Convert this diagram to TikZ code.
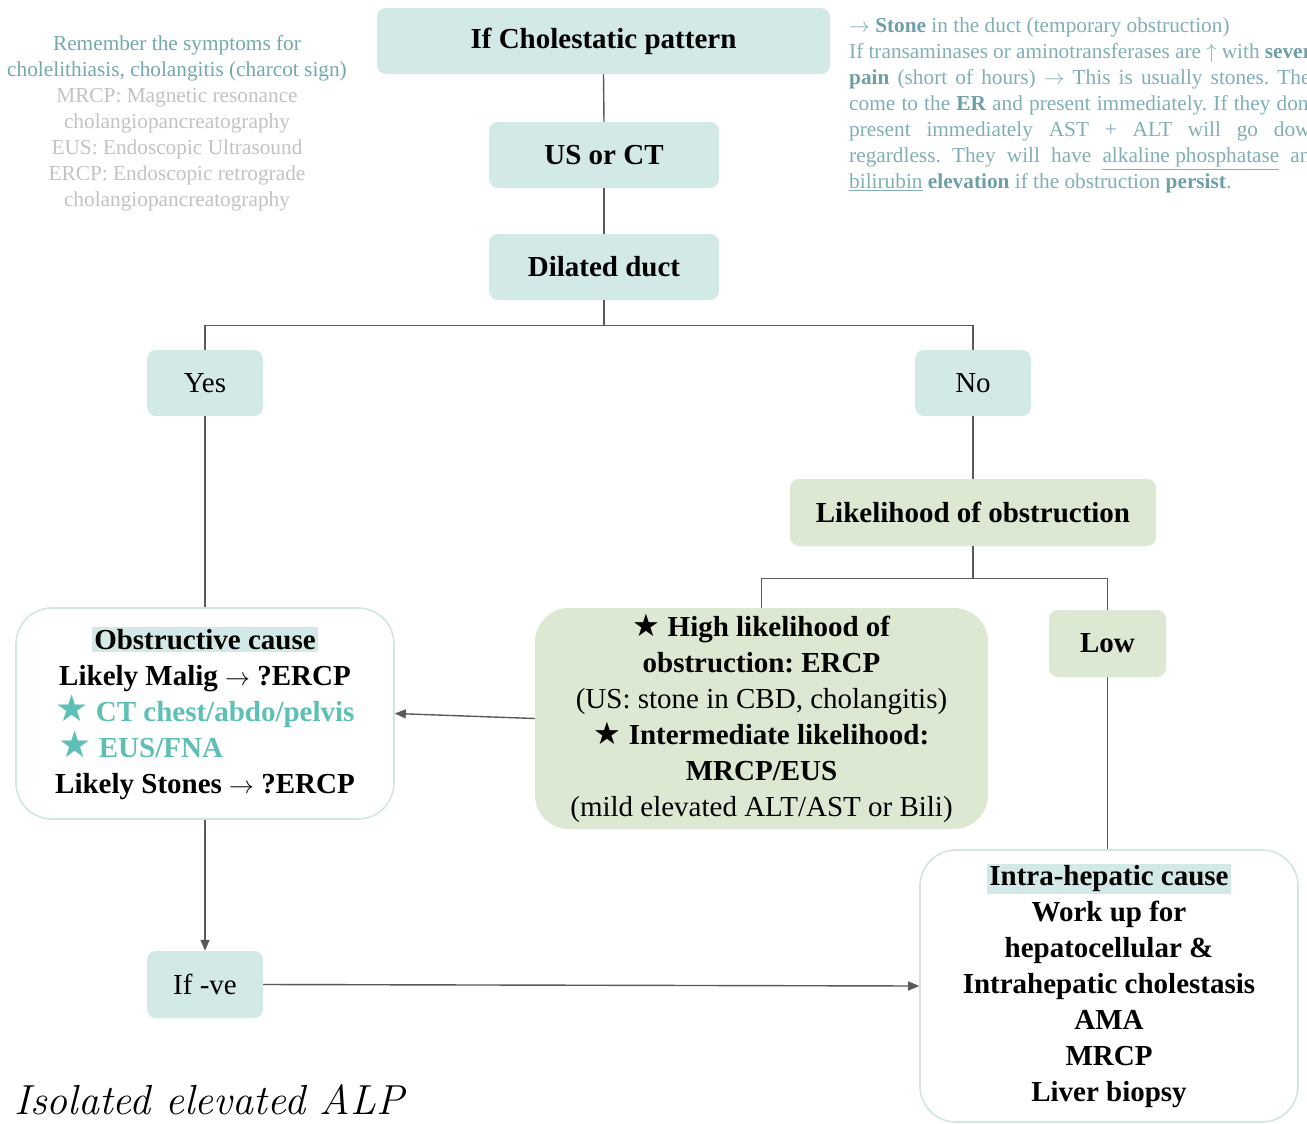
\documentclass[tikz,border=0pt]{standalone}
\usepackage{fontspec}
\usepackage{calc}
\setmainfont{Liberation Serif}
\newfontfamily\symfont{DejaVu Sans}
\newfontfamily\handfont{Latin Modern Roman}
\usetikzlibrary{arrows.meta}
\definecolor{tealfill}{HTML}{D3E9E7}
\definecolor{greenfill}{HTML}{DDE8D3}
\definecolor{outline}{HTML}{CFE6E3}
\definecolor{linegray}{HTML}{595959}
\definecolor{starteal}{HTML}{5DBFB5}
\definecolor{noteteal}{HTML}{80AEB4}
\definecolor{notebold}{HTML}{6E9FA6}
\definecolor{leftteal}{HTML}{72A8AE}
\definecolor{notegray}{HTML}{C2C2C2}
\frenchspacing
\newcommand{\bigfont}{\fontsize{29}{36}\selectfont}
\newcommand{\notefont}{\fontsize{21.3}{26}\selectfont}
\newcommand{\nb}[1]{\textbf{\color{notebold}#1}}
\newcommand{\ul}[1]{\underline{#1}}
\newcommand{\bstar}{{\symfont\fontsize{31}{36}\selectfont\char"2605}}
\newcommand{\tstar}{{\symfont\fontsize{37}{36}\selectfont\char"2605}}
\newcommand{\rarr}{\ensuremath{\rightarrow}}
\newcommand{\uarr}{\ensuremath{\uparrow}}
\tikzset{
  tealbox/.style={fill=tealfill, rounded corners=9pt, inner sep=0pt, font=\bigfont, align=center},
  greenbox/.style={fill=greenfill, rounded corners=9pt, inner sep=0pt, font=\bigfont, align=center},
  bigbox/.style={draw=outline, line width=1.6pt, fill=white, rounded corners=36pt, inner sep=0pt, font=\bigfont, align=center},
  biggreen/.style={fill=greenfill, rounded corners=34pt, inner sep=0pt, font=\bigfont, align=center},
  conn/.style={draw=linegray, line width=1.4pt},
  arr/.style={conn, -{Triangle[length=11pt,width=9pt]}}
}
\begin{document}
\begin{tikzpicture}[x=1pt,y=-1pt]
\useasboundingbox (0,0) rectangle (1307,1124);
% top chain
\node[tealbox, minimum width=453, minimum height=66] (top) at (603.5,41) {\textbf{If Cholestatic pattern}};
\node[tealbox, minimum width=230, minimum height=66] (us) at (604,155) {\textbf{US or CT}};
\node[tealbox, minimum width=230, minimum height=66] (dil) at (604,267) {\textbf{Dilated duct}};
\node[tealbox, minimum width=116, minimum height=66] (yes) at (205,383) {Yes};
\node[tealbox, minimum width=116, minimum height=66] (no) at (973,383) {No};
\node[greenbox, minimum width=366, minimum height=67] (lik) at (973,512.5) {\textbf{Likelihood of obstruction}};
\node[greenbox, minimum width=117, minimum height=67] (low) at (1107.5,643.5) {\textbf{Low}};
\node[biggreen, minimum width=453, minimum height=221] (high) at (761.5,718.5) {%
\textbf{\bstar\ High likelihood of}\\
\textbf{obstruction: ERCP}\\
(US: stone in CBD, cholangitis)\\
\textbf{\bstar\ Intermediate likelihood:}\\
\textbf{MRCP/EUS}\\
(mild elevated ALT/AST or Bili)};
\node[bigbox, minimum width=378, minimum height=211] (obs) at (205,713.5) {%
{\setlength{\fboxsep}{2pt}\colorbox{tealfill}{\textbf{Obstructive cause}}}\\
\textbf{Likely Malig \rarr\ ?ERCP}\\
\textbf{\color{starteal}\tstar\ CT chest/abdo/pelvis}\\
\makebox[\widthof{\textbf{\tstar\ CT chest/abdo/pelvis}}][l]{\textbf{\color{starteal}\hspace{3pt}\tstar\ EUS/FNA}}\\
\textbf{Likely Stones \rarr\ ?ERCP}};
\node[tealbox, minimum width=116, minimum height=67] (ifve) at (205,984.5) {If -ve};
\node[bigbox, minimum width=378, minimum height=272] (intra) at (1109,986) {%
{\setlength{\fboxsep}{2pt}\colorbox{tealfill}{\textbf{Intra-hepatic cause}}}\\
\textbf{Work up for}\\
\textbf{hepatocellular \&}\\
\textbf{Intrahepatic cholestasis}\\
\textbf{AMA}\\
\textbf{MRCP}\\
\textbf{Liver biopsy}};
% connectors
\draw[conn] (top.south) -- (us.north);
\draw[conn] (us.south) -- (dil.north);
\draw[conn] (dil.south) -- ++(0,25) -| (yes.north);
\draw[conn] (dil.south) -- ++(0,25) -| (no.north);
\draw[conn] (yes.south) -- (obs.north);
\draw[conn] (no.south) -- (lik.north);
\draw[conn] (lik.south) -- ++(0,32) -| (high.north);
\draw[conn] (lik.south) -- ++(0,32) -| (low.north);
\draw[conn] (low.south) -- (low.south |- intra.north);
\draw[arr] (high.west) -- (obs.east);
\draw[arr] (obs.south) -- (ifve.north);
\draw[arr] (ifve.east) -- (intra.west);
% notes
\node[align=center, font=\notefont, inner sep=0pt] (leftnote) at (177,123) {%
\color{leftteal}Remember the symptoms for\\
\color{leftteal}cholelithiasis, cholangitis (charcot sign)\\
\color{notegray}MRCP: Magnetic resonance\\
\color{notegray}cholangiopancreatography\\
\color{notegray}EUS: Endoscopic Ultrasound\\
\color{notegray}ERCP: Endoscopic retrograde\\
\color{notegray}cholangiopancreatography};
\node[anchor=north west, align=left, font=\notefont, text=noteteal, inner sep=0pt] (rightnote) at (849,18) {%
\rarr\ \nb{Stone} in the duct (temporary obstruction)\\
\makebox[472pt][s]{If transaminases or aminotransferases are \uarr\ with \nb{severe}}\\
\makebox[472pt][s]{\nb{pain} (short of hours) \rarr\ This is usually stones. They}\\
\makebox[472pt][s]{come to the \nb{ER} and present immediately. If they don't}\\
\makebox[472pt][s]{present immediately AST + ALT will go down}\\
\makebox[472pt][s]{regardless. They will have \ul{alkaline phosphatase} and}\\
\ul{bilirubin} \nb{elevation} if the obstruction \nb{persist}.};
\node[anchor=west, inner sep=0pt, font=\handfont\itshape\fontsize{42}{48}\selectfont] (hand) at (14,1100) {Isolated elevated ALP};
\end{tikzpicture}
\end{document}
